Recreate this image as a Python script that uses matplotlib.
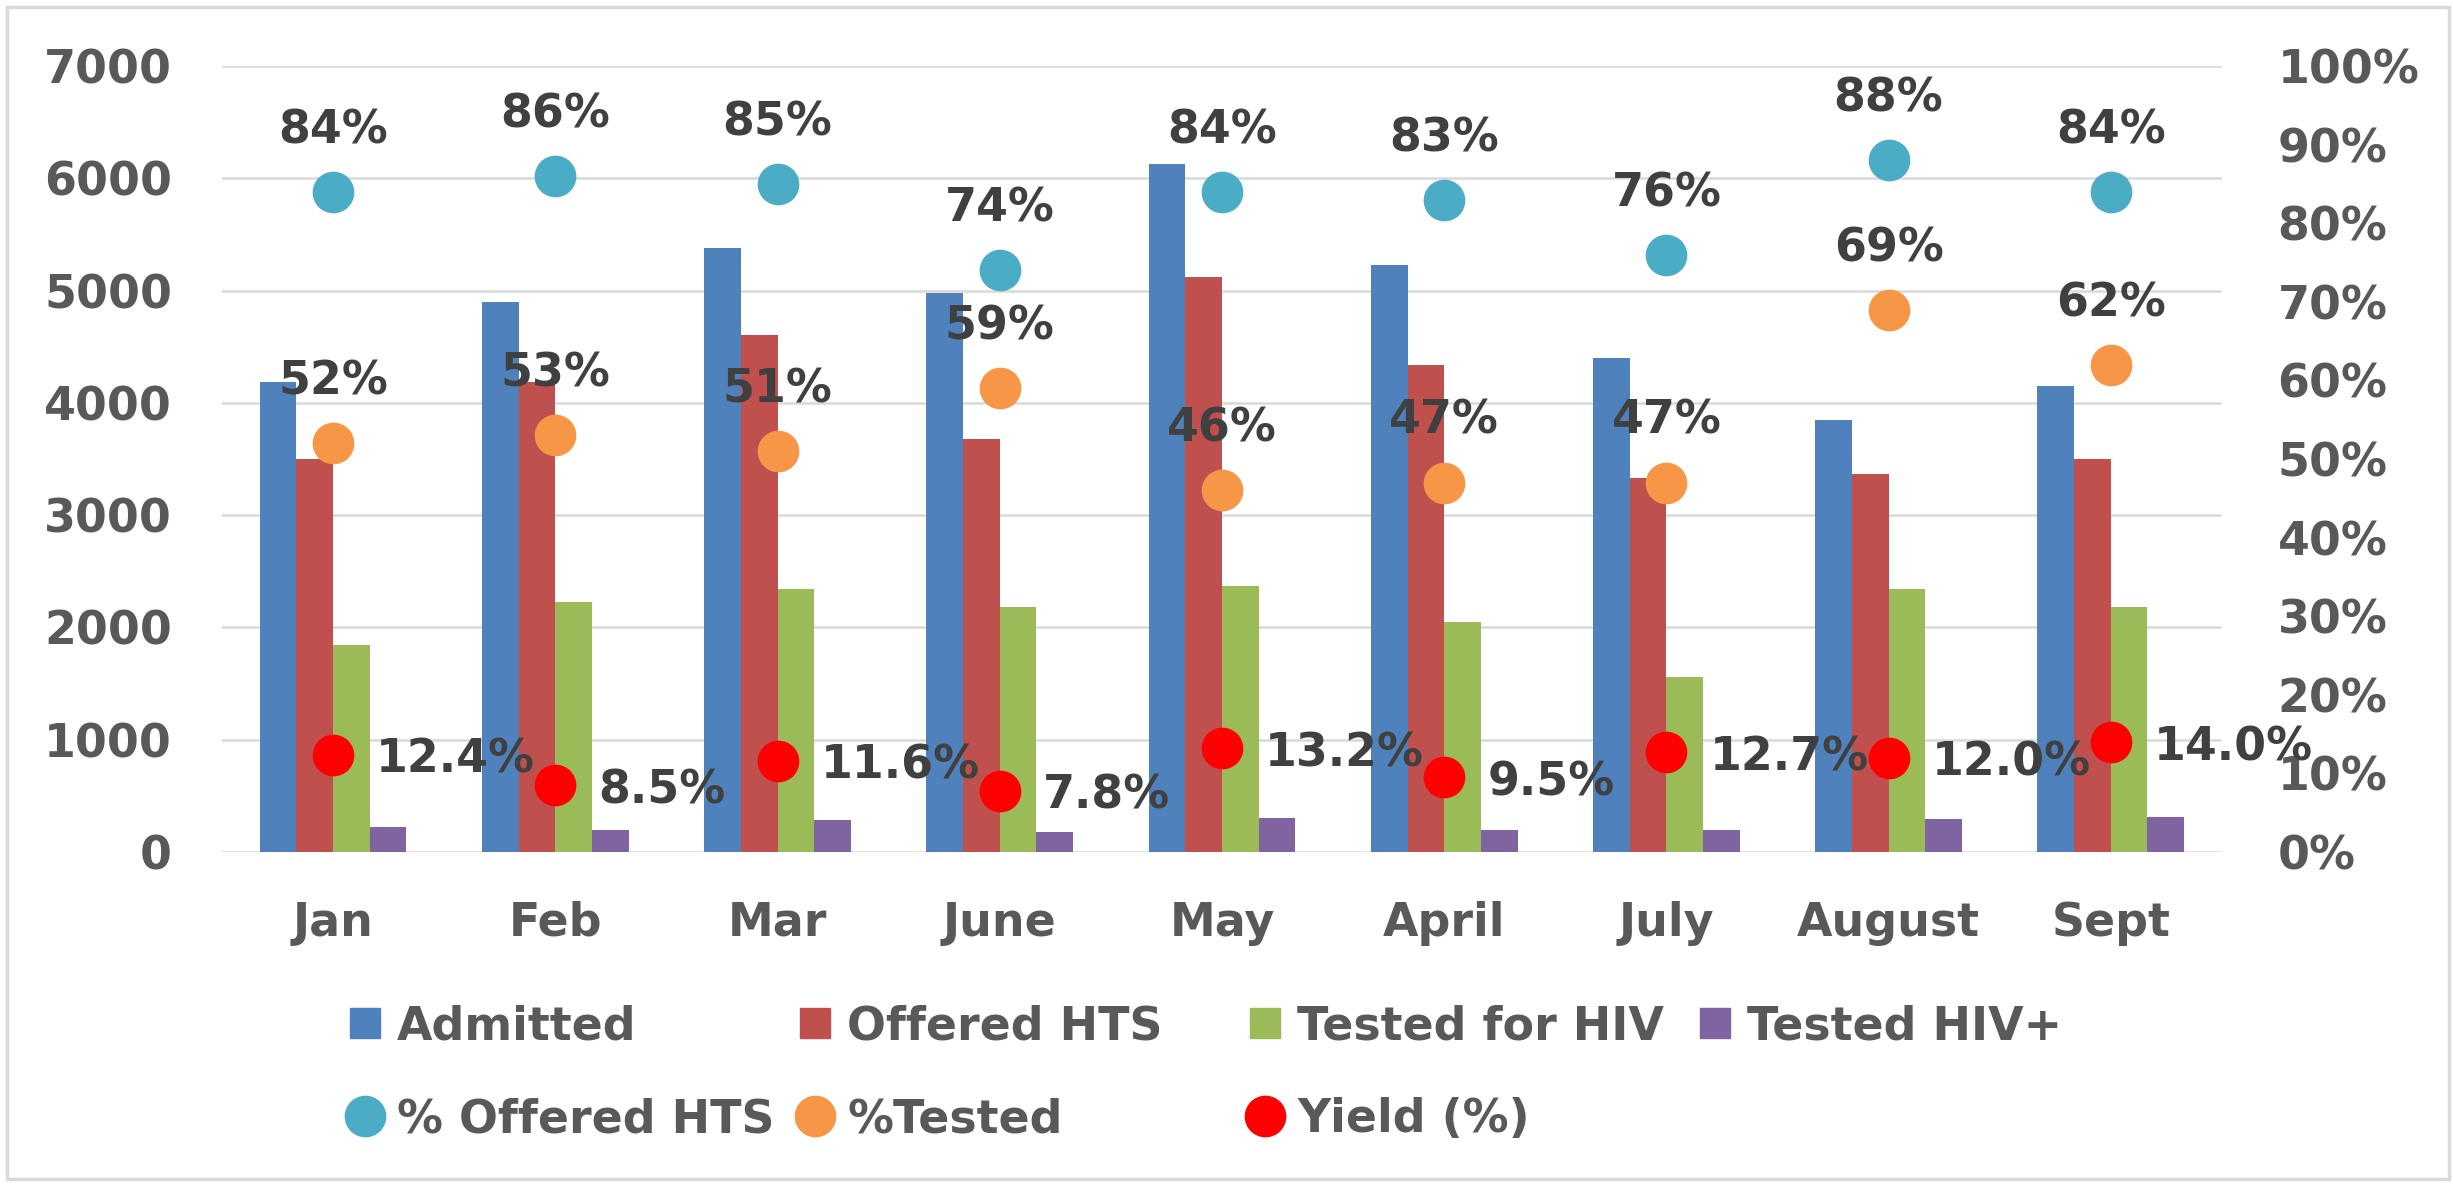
import numpy as np
import matplotlib.pyplot as plt
from matplotlib.lines import Line2D
from matplotlib.patches import Rectangle
from matplotlib.ticker import PercentFormatter

# data
months = ['Jan', 'Feb', 'Mar', 'June', 'May', 'April', 'July', 'August', 'Sept']
admitted = [4190, 4900, 5380, 4980, 6130, 5230, 4400, 3850, 4150]
offered = [3500, 4190, 4600, 3680, 5120, 4340, 3330, 3370, 3500]
tested = [1840, 2230, 2340, 2180, 2370, 2050, 1560, 2340, 2180]
positive = [220, 200, 285, 180, 300, 200, 200, 290, 310]
pct_offered = [84, 86, 85, 74, 84, 83, 76, 88, 84]
pct_tested = [52, 53, 51, 59, 46, 47, 47, 69, 62]
yield_pct = [12.4, 8.5, 11.6, 7.8, 13.2, 9.5, 12.7, 12.0, 14.0]

bar_colors = ['#4F81BD', '#C0504D', '#9BBB59', '#8064A2']
c_off, c_test, c_yield = '#4BACC6', '#F79646', '#FF0000'
tick_col, lab_col = '#595959', '#404040'
fs = 33

plt.rcParams['font.family'] = ['DejaVu Sans']
plt.rcParams['font.weight'] = 'bold'

W, H = 2453, 1185
fig = plt.figure(figsize=(W / 100, H / 100), dpi=100)
ax = fig.add_axes([0.0905, 0.281, 0.8153, 0.6633])

x = np.arange(len(months))
w = 0.165
for i, (vals, col) in enumerate(zip([admitted, offered, tested, positive], bar_colors)):
    ax.bar(x + (i - 1.5) * w, vals, w, color=col, zorder=2)

ax.set_xlim(-0.5, len(months) - 0.5)
ax.set_ylim(0, 7000)
ax.set_yticks(range(0, 7001, 1000))
ax.set_xticks(x)
ax.set_xticklabels(months)
ax.grid(axis='y', color='#D9D9D9', lw=1.8, zorder=0)
ax.set_axisbelow(True)
for s in ax.spines.values():
    s.set_visible(False)
ax.tick_params(axis='y', length=0, labelsize=fs, labelcolor=tick_col, pad=36)
ax.tick_params(axis='x', length=0, labelsize=fs, labelcolor=tick_col, pad=35)

ax2 = ax.twinx()
ax2.set_ylim(0, 100)
ax2.set_yticks(range(0, 101, 10))
ax2.yaxis.set_major_formatter(PercentFormatter(decimals=0))
for s in ax2.spines.values():
    s.set_visible(False)
ax2.tick_params(axis='y', length=0, labelsize=fs, labelcolor=tick_col, pad=40)

ms = 29
ax2.plot(x, pct_offered, 'o', color=c_off, ms=ms, zorder=3)
ax2.plot(x, pct_tested, 'o', color=c_test, ms=ms, zorder=3)
ax2.plot(x, yield_pct, 'o', color=c_yield, ms=ms, zorder=3)

lbl = dict(textcoords='offset points', fontsize=fs, color=lab_col, fontweight='bold')
for xi, v in zip(x, pct_offered):
    ax2.annotate(f'{v}%', (xi, v), xytext=(0, 44), ha='center', va='center', **lbl)
for xi, v in zip(x, pct_tested):
    ax2.annotate(f'{v}%', (xi, v), xytext=(0, 44), ha='center', va='center', **lbl)
for xi, v in zip(x, yield_pct):
    ax2.annotate(f'{v:.1f}%', (xi, v), xytext=(31, -4), ha='left', va='center', **lbl)

# legend: Excel-style grid, one entry at a time so the columns line up
def sq(c):
    return Line2D([], [], marker='s', color=c, ls='none', ms=22)

def dot(c):
    return Line2D([], [], marker='o', color=c, ls='none', ms=29)

entries = [
    (sq(bar_colors[0]), 'Admitted', 0, 0),
    (sq(bar_colors[1]), 'Offered HTS', 1, 0),
    (sq(bar_colors[2]), 'Tested for HIV', 2, 0),
    (sq(bar_colors[3]), 'Tested HIV+', 3, 0),
    (dot(c_off), '% Offered HTS', 0, 1),
    (dot(c_test), '%Tested', 1, 1),
    (dot(c_yield), 'Yield (%)', 2, 1),
]
col_px = [365, 815, 1265, 1715]   # marker centres
row_px = [1027, 1120]
hl = 0.8
half = hl * fs / 72 * 100 / 2
for h, l, c, r in entries:
    fig.legend([h], [l], loc='center left',
               bbox_to_anchor=((col_px[c] - half) / W, 1 - row_px[r] / H),
               frameon=False, fontsize=fs, labelcolor=tick_col, borderpad=0,
               handlelength=hl, handletextpad=0.3, borderaxespad=0)

fig.add_artist(Rectangle((0.003, 0.005), 0.9955, 0.989, transform=fig.transFigure,
                         fill=False, edgecolor='#D9D9D9', lw=2.5))

fig.savefig('out.png', dpi=100)
